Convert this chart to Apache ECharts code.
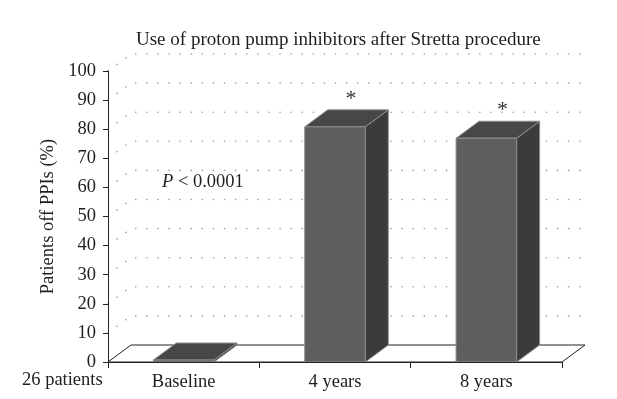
<!DOCTYPE html>
<html>
<head>
<meta charset="utf-8">
<title>Use of proton pump inhibitors after Stretta procedure</title>
<script src="https://cdn.jsdelivr.net/npm/echarts@6/dist/echarts.min.js"></script>
<style>
html, body { margin: 0; padding: 0; background: #fff; }
#main { width: 617px; height: 399px; }
</style>
</head>
<body>
<div id="main"></div>
<script>
// data
var categories = ['Baseline', '4 years', '8 years'];
var offPPIs = [0, 80.8, 76.9];          // % of 26 patients off PPIs
var marks = ['', '*', '*'];             // significance marks
var yMin = 0, yMax = 100, yStep = 10;

// 3d look: depth offset of the back wall
var DX = 23, DY = -17;
var FONT = '"Liberation Serif", "DejaVu Serif", serif';

var myChart = echarts.init(document.getElementById('main'));

// floor + dotted back-wall gridlines
function renderFrame(params, api) {
    var cs = params.coordSys;
    var left = cs.x, right = cs.x + cs.width;
    var children = [];
    for (var v = yMin + yStep; v <= yMax; v += yStep) {
        var y = api.coord([0, v])[1];
        children.push({
            type: 'polyline',
            shape: { points: [[left, y], [left + DX, y + DY], [right + DX, y + DY]] },
            style: { fill: null, stroke: '#a0a0a0', lineWidth: 1.6, lineDash: [0.1, 11], lineCap: 'round' },
            silent: true
        });
    }
    var y0 = api.coord([0, yMin])[1];
    children.push({
        type: 'polygon',
        shape: { points: [[left, y0], [right, y0], [right + DX, y0 + DY], [left + DX, y0 + DY]] },
        style: { fill: '#fff', stroke: '#222', lineWidth: 1 }
    });
    return { type: 'group', children: children };
}

// one 3d bar per category
function renderBar(params, api) {
    var idx = api.value(0);
    var base = api.coord([idx, 0]);
    var top = api.coord([idx, api.value(1)]);
    var w = api.size([1, 0])[0] * 0.4;
    var x0 = base[0] - w / 2, x1 = base[0] + w / 2;
    var y0 = base[1], y1 = Math.min(top[1], base[1] - 2);
    var edge = '#8c8c8c';
    var children = [
        {
            type: 'polygon',
            shape: { points: [[x1, y1], [x1 + DX, y1 + DY], [x1 + DX, y0 + DY], [x1, y0]] },
            style: { fill: '#3b3b3b', stroke: edge, lineWidth: 1 }
        },
        {
            type: 'polygon',
            shape: { points: [[x0, y1], [x1, y1], [x1 + DX, y1 + DY], [x0 + DX, y1 + DY]] },
            style: { fill: '#474747', stroke: edge, lineWidth: 1 }
        },
        {
            type: 'rect',
            shape: { x: x0, y: y1, width: w, height: y0 - y1 },
            style: { fill: '#5e5e5e', stroke: edge, lineWidth: 1 }
        }
    ];
    var m = marks[params.dataIndex];
    if (m) {
        children.push({
            type: 'text',
            style: {
                text: m, x: base[0] + DX * 0.7, y: y1 + DY - 11,
                align: 'center', verticalAlign: 'middle',
                font: '22px ' + FONT, fill: '#333'
            }
        });
    }
    return { type: 'group', children: children };
}

var option = {
    animation: false,
    title: {
        text: 'Use of proton pump inhibitors after Stretta procedure',
        left: 131,
        top: 26,
        textStyle: { fontFamily: FONT, fontSize: 19, fontWeight: 'normal', color: '#1e1e1e' }
    },
    grid: { left: 108, right: 55, top: 71, bottom: 37 },
    xAxis: {
        type: 'category',
        data: categories,
        z: 10,
        axisLine: { lineStyle: { color: '#222', width: 1 } },
        axisTick: { show: true, length: 6, lineStyle: { color: '#222' } },
        axisLabel: { margin: 11, fontFamily: FONT, fontSize: 18.5, color: '#1e1e1e' }
    },
    yAxis: {
        type: 'value',
        min: yMin,
        max: yMax,
        interval: yStep,
        z: 10,
        name: 'Patients off PPIs (%)',
        nameLocation: 'middle',
        nameRotate: 90,
        nameGap: 45,
        nameTextStyle: { fontFamily: FONT, fontSize: 18.5, color: '#1e1e1e' },
        axisLine: { show: true, lineStyle: { color: '#222', width: 1 } },
        axisTick: { show: true, length: 5, lineStyle: { color: '#222' } },
        axisLabel: { margin: 12, fontFamily: FONT, fontSize: 18.5, color: '#1e1e1e' },
        splitLine: { show: false }
    },
    graphic: [
        {
            type: 'text',
            left: 22,
            top: 371,
            style: { text: '26 patients', font: '18.5px ' + FONT, fill: '#1e1e1e' }
        },
        {
            type: 'text',
            left: 162,
            top: 173,
            style: {
                text: '{i|P} < 0.0001',
                font: '18.5px ' + FONT,
                fill: '#1e1e1e',
                rich: { i: { fontStyle: 'italic', fontFamily: FONT, fontSize: 18.5 } }
            }
        }
    ],
    series: [
        {
            name: 'frame',
            type: 'custom',
            z: 1,
            clip: false,
            silent: true,
            renderItem: renderFrame,
            data: [[0, 0]]
        },
        {
            name: 'Patients off PPIs',
            type: 'custom',
            z: 3,
            clip: false,
            renderItem: renderBar,
            encode: { x: 0, y: 1 },
            data: categories.map(function (c, i) { return [i, offPPIs[i]]; })
        }
    ]
};

myChart.setOption(option);
</script>
</body>
</html>
